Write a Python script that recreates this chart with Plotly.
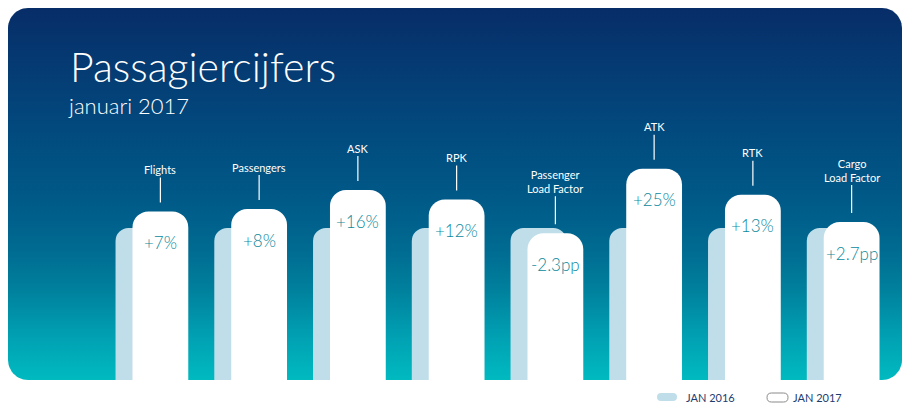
import numpy as np
import plotly.graph_objects as go

categories = ["Flights", "Passengers", "ASK", "RPK", "Passenger Load Factor", "ATK", "RTK", "Cargo Load Factor"]
labels = ["Flights", "Passengers", "ASK", "RPK", "Passenger<br>Load Factor", "ATK", "RTK", "Cargo<br>Load Factor"]
jan_2016 = [100, 100, 100, 100, 100, 100, 100, 100]
jan_2017 = [107, 108, 116, 112, 97.8, 125, 114, 102.5]
changes = ["+7%", "+8%", "+16%", "+12%", "-2.3pp", "+25%", "+13%", "+2.7pp"]

# the page body has an 8px margin all round, so the figure is made to fit inside it
# and positions below are given as page pixels (px - 8 across, 403 - py up)
W, H = 894, 395
FONT = "Lato"


def X(px):
    return px - 8


def Y(py):
    return 403 - py


def rounded_box(x0, y0, x1, y1, r, n=14):
    # outline of a rounded rectangle, used for the gradient panel
    xs, ys = [], []
    for cx, cy, a0, a1 in [(x1 - r, y1 - r, 0, 90), (x0 + r, y1 - r, 90, 180),
                           (x0 + r, y0 + r, 180, 270), (x1 - r, y0 + r, 270, 360)]:
        t = np.radians(np.linspace(a0, a1, n))
        xs += list(cx + r * np.cos(t))
        ys += list(cy + r * np.sin(t))
    xs.append(xs[0])
    ys.append(ys[0])
    return xs, ys


def pill(x0, y0, x1, y1):
    r = (y1 - y0) / 2
    return (f"M {x0 + r},{y0} L {x1 - r},{y0} Q {x1},{y0} {x1},{y0 + r} Q {x1},{y1} {x1 - r},{y1} "
            f"L {x0 + r},{y1} Q {x0},{y1} {x0},{y0 + r} Q {x0},{y0} {x0 + r},{y0} Z")


bx, by = rounded_box(X(8), Y(380), X(902), Y(8), 20)

fig = go.Figure()

# background panel (pixel units, hidden axes x/y)
fig.add_trace(go.Scatter(
    x=bx, y=by, mode="lines", fill="toself", line=dict(width=0),
    fillgradient=dict(type="vertical", colorscale=[
        [0, "#00bac0"], [0.11, "#00a2b3"], [0.24, "#00819d"], [0.35, "#006b91"],
        [0.48, "#005a88"], [0.67, "#024a7e"], [0.85, "#053a72"], [1, "#072d68"]]),
    hoverinfo="skip", showlegend=False, xaxis="x", yaxis="y"))

# one category slot is ~99px wide, bars are 56px, last year's bar sits 17px to the left
fig.add_trace(go.Bar(
    x=categories, y=jan_2016, name="JAN 2016", xaxis="x2", yaxis="y2",
    marker=dict(color="#bfdeea", cornerradius=13, line=dict(width=0)),
    width=0.565, offset=-0.454, showlegend=False))
fig.add_trace(go.Bar(
    x=categories, y=jan_2017, name="JAN 2017", xaxis="x2", yaxis="y2",
    marker=dict(color="#ffffff", cornerradius=16, line=dict(width=0)),
    width=0.565, offset=-0.2825, showlegend=False))

annotations = [
    dict(text="Passagiercijfers", x=X(68), y=Y(66), xref="x", yref="y", xanchor="left", yanchor="middle",
         showarrow=False, font=dict(family=FONT, size=41, color="white", weight=300)),
    dict(text="januari 2017", x=X(66), y=Y(105), xref="x", yref="y", xanchor="left", yanchor="middle",
         showarrow=False, font=dict(family=FONT, size=22, color="white", weight=300)),
]
for cat, lab, val, ch in zip(categories, labels, jan_2017, changes):
    two = "<br>" in lab
    annotations.append(dict(
        text=lab, x=cat, y=val, xref="x2", yref="y2", showarrow=True, arrowhead=0,
        arrowwidth=1.2, arrowcolor="white", ax=0, ay=-52 if two else -42, standoff=9,
        font=dict(family=FONT, size=11, color="white")))
    annotations.append(dict(
        text=ch, x=cat, y=val, xref="x2", yref="y2", showarrow=False, yshift=-31,
        font=dict(family=FONT, size=17, color="#0b8a9d", weight=300)))

# legend
annotations += [
    dict(text="JAN 2016", x=X(684), y=Y(397), xref="x", yref="y", xanchor="left", yanchor="middle",
         showarrow=False, font=dict(family=FONT, size=11, color="#1d3c70")),
    dict(text="JAN 2017", x=X(791), y=Y(397), xref="x", yref="y", xanchor="left", yanchor="middle",
         showarrow=False, font=dict(family=FONT, size=11, color="#1d3c70")),
]
shapes = [
    dict(type="path", xref="x", yref="y", path=pill(X(657), Y(401), X(677), Y(393)),
         fillcolor="#bfdeea", line=dict(width=0)),
    dict(type="path", xref="x", yref="y", path=pill(X(767), Y(402), X(788), Y(393)),
         fillcolor="white", line=dict(width=1, color="#8a8a8a")),
]

fig.update_layout(
    width=W, height=H, margin=dict(l=0, r=0, t=0, b=0),
    paper_bgcolor="white", plot_bgcolor="rgba(0,0,0,0)",
    barmode="overlay", showlegend=False,
    xaxis=dict(range=[0, W], domain=[0, 1], visible=False, fixedrange=True),
    yaxis=dict(range=[0, H], domain=[0, 1], visible=False, fixedrange=True),
    xaxis2=dict(domain=[X(111) / W, X(901) / W], anchor="y2", visible=False, fixedrange=True),
    yaxis2=dict(domain=[Y(380) / H, 1], range=[36, 36 + 372 / 2.375], anchor="x2",
                visible=False, fixedrange=True),
    annotations=annotations, shapes=shapes,
)

fig.write_html("out.html")
